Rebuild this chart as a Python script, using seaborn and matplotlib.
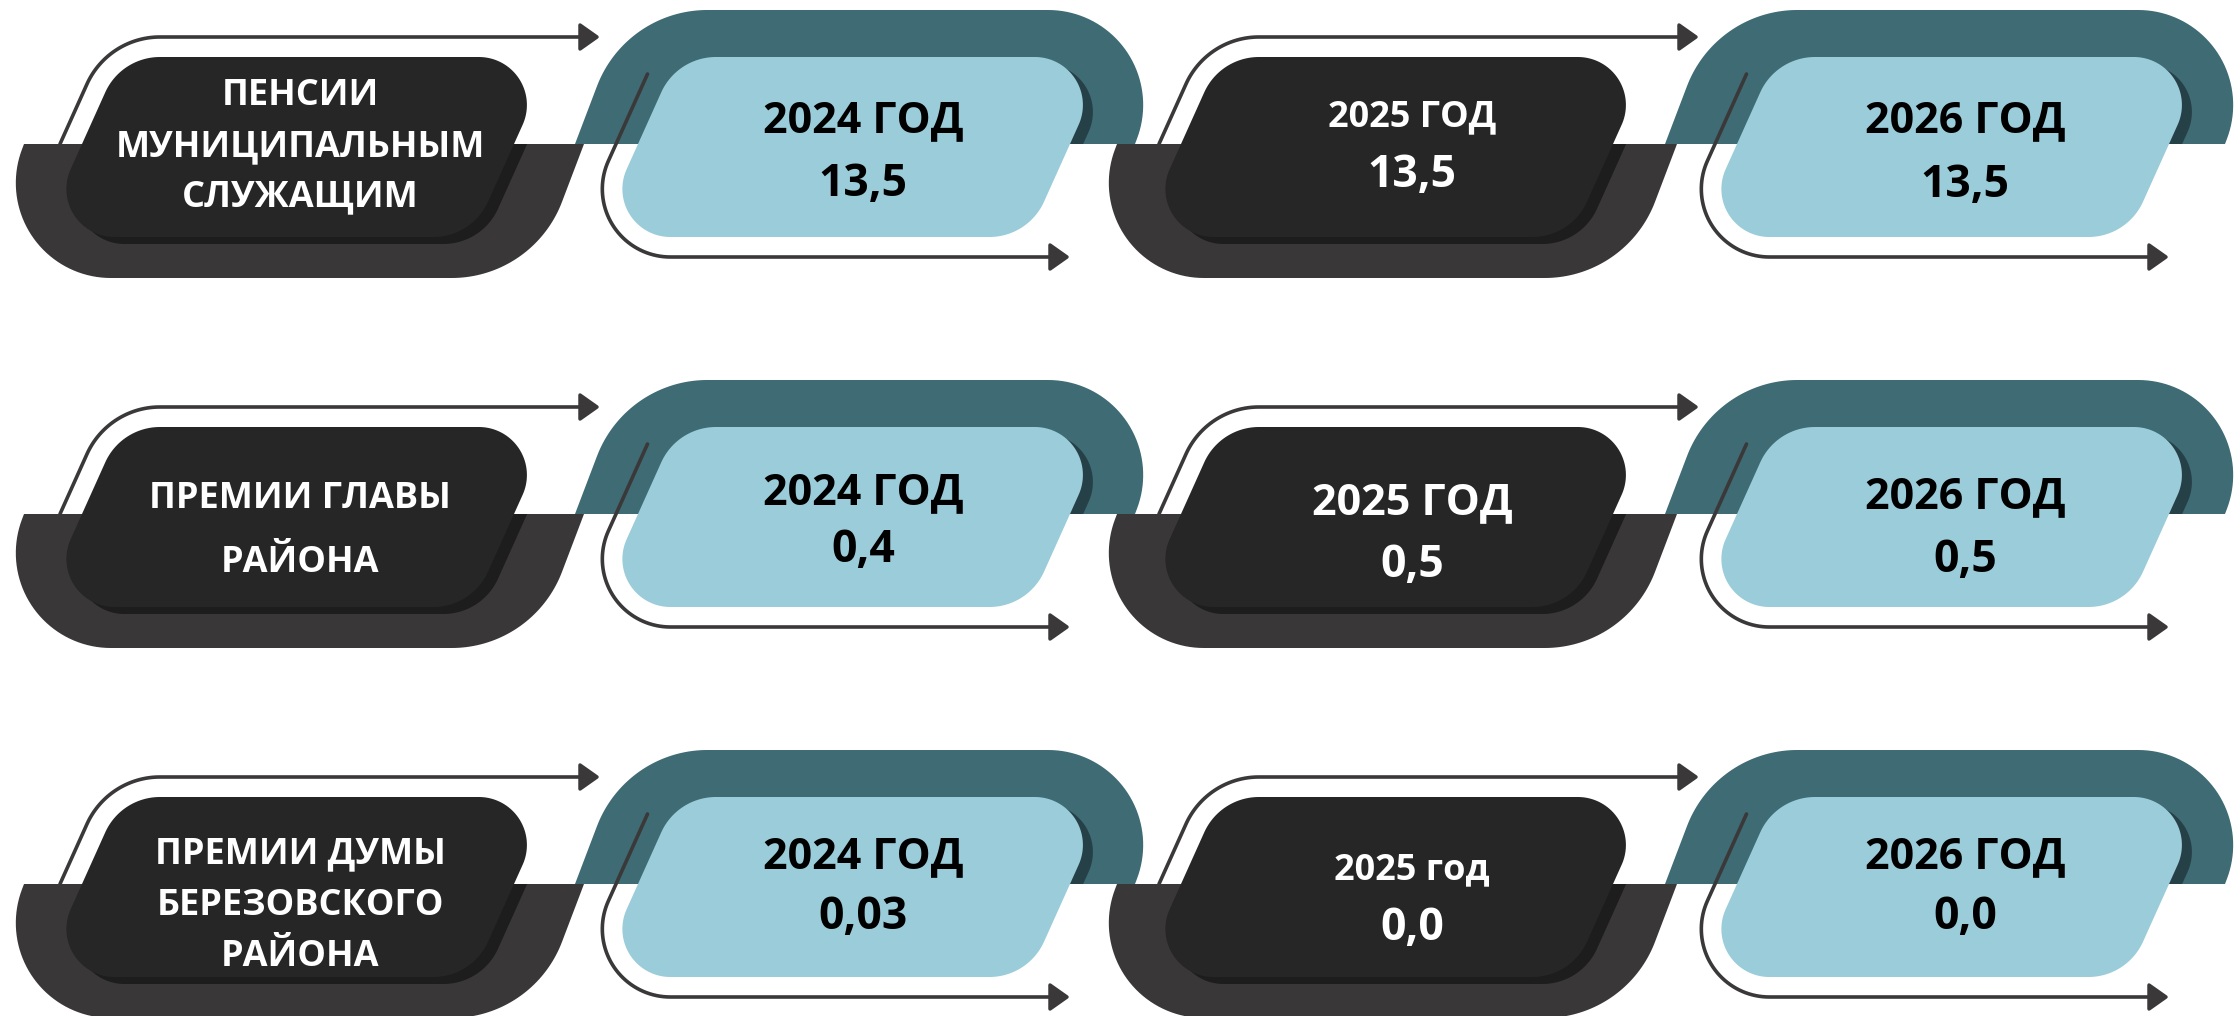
import numpy as np
import matplotlib
matplotlib.use("Agg")
import matplotlib.pyplot as plt
from matplotlib.patches import Polygon, Rectangle
from matplotlib.lines import Line2D
import seaborn as sns

# ---------------- data ----------------
categories = ["ПЕНСИИ\nМУНИЦИПАЛЬНЫМ\nСЛУЖАЩИМ",
              "ПРЕМИИ ГЛАВЫ\nРАЙОНА",
              "ПРЕМИИ ДУМЫ\nБЕРЕЗОВСКОГО\nРАЙОНА"]
periods_pensions = ["2024 ГОД", "2025 ГОД", "2026 ГОД"]
periods_head = ["2024 ГОД", "2025 ГОД", "2026 ГОД"]
periods_duma = ["2024 ГОД", "2025 год", "2026 ГОД"]
values_2024 = [13.5, 0.4, 0.03]
values_2025 = [13.5, 0.5, 0.0]
values_2026 = [13.5, 0.5, 0.0]

period_rows = [periods_pensions, periods_head, periods_duma]
value_cols = [values_2024, values_2025, values_2026]

# ---------------- style / layout ----------------
sns.set_theme(style="white")
plt.rcParams['font.family'] = ['Open Sans', 'DejaVu Sans']

W, H = 2236, 1016
DPI = 100
row_off = [0, 370, 740]
inner_cx = [298, 854, 1397, 1953]
outer_cx = [304, 855, 1397, 1945]
text_x = [300, 863, 1412, 1965]
SHEAR_IN = 0.45
SHEAR_OUT = 0.38
YREF = 144

C_DARK_OUT = "#3A3738"
C_DARK_IN = "#262626"
C_DARK_SH = "#1D1D1D"
C_TEAL_OUT = "#3F6B74"
C_LIGHT_IN = "#9ACCD9"
C_TEAL_SH = "#264048"
C_LINE = "#3A3838"

label_cy = [143, 157, 162]
label_gap = [50.5, 64, 51.5]
year_cy = [[117, 113, 117], [119, 129, 123], [113, 126, 113]]
value_cy = [[180, 171, 181], [176, 191, 186], [173, 184, 173]]
year_fs = [[31, 26, 31], [31, 31, 31], [31, 26, 31]]
VALUE_FS = 32
LABEL_FS = 26


def fmt(v):
    s = f"{v:.2f}".rstrip("0")
    if s.endswith("."):
        s += "0"
    return s.replace(".", ",")


def para_vertices(cx, hw, yt, yb, s, yref):
    xl = lambda y: cx - hw + s * (yref - y)
    xr = lambda y: cx + hw + s * (yref - y)
    return [np.array([xl(yt), yt]), np.array([xr(yt), yt]),
            np.array([xr(yb), yb]), np.array([xl(yb), yb])], xl


def fillet(V, P, N, r, n=40):
    u1 = (P - V) / np.linalg.norm(P - V)
    u2 = (N - V) / np.linalg.norm(N - V)
    th = np.arccos(np.clip(np.dot(u1, u2), -1, 1))
    t = r / np.tan(th / 2)
    T1 = V + u1 * t
    T2 = V + u2 * t
    bis = (u1 + u2) / np.linalg.norm(u1 + u2)
    C = V + bis * r / np.sin(th / 2)
    a1 = np.arctan2(*(T1 - C)[::-1])
    a2 = np.arctan2(*(T2 - C)[::-1])
    da = (a2 - a1 + np.pi) % (2 * np.pi) - np.pi
    a = a1 + da * np.linspace(0, 1, n)
    return np.column_stack([C[0] + r * np.cos(a), C[1] + r * np.sin(a)])


def rounded_para(cx, hw, yt, yb, r_obt, r_acu, s, yref):
    V, _ = para_vertices(cx, hw, yt, yb, s, yref)
    radii = [r_obt, r_acu, r_obt, r_acu]   # TL, TR, BR, BL
    pts = [fillet(V[i], V[i - 1], V[(i + 1) % 4], radii[i]) for i in range(4)]
    return np.vstack(pts)


fig = plt.figure(figsize=(W / DPI, H / DPI), dpi=DPI)
ax = fig.add_axes([0, 0, 1, 1])
ax.set_xlim(0, W)
ax.set_ylim(H, 0)
ax.axis("off")

for ri, off in enumerate(row_off):
    yref = YREF + off
    for ci in range(4):
        dark = (ci % 2 == 0)
        oc = outer_cx[ci]
        ic = inner_cx[ci]
        # outer half shape
        opts = rounded_para(oc, 280, 10 + off, 278 + off, 118, 95, SHEAR_OUT, yref)
        if dark:
            clip = Rectangle((0, yref), W, 400, transform=ax.transData)
        else:
            clip = Rectangle((0, off - 50), W, YREF + 50, transform=ax.transData)
        outer = Polygon(opts, closed=True, facecolor=C_DARK_OUT if dark else C_TEAL_OUT,
                        edgecolor="none", zorder=1)
        ax.add_patch(outer)
        outer.set_clip_path(clip)

        # shadow of inner box
        ipts = rounded_para(ic, 216, 57 + off, 237 + off, 60, 48, SHEAR_IN, yref)
        sh = Polygon(ipts + np.array([10, 7]), closed=True,
                     facecolor=C_DARK_SH if dark else C_TEAL_SH, edgecolor="none", zorder=2)
        ax.add_patch(sh)
        sh.set_clip_path(clip)

        # arrow line around inner box
        V, xl = para_vertices(ic, 238, 37 + off, 257 + off, SHEAR_IN, yref)
        if dark:
            start = np.array([[xl(yref), yref]])
            arc = fillet(V[0], V[3], V[1], 80)
            y_line = 37 + off
            x_end = ic + 282
        else:
            start = np.array([[xl(74 + off), 74 + off]])
            arc = fillet(V[3], V[0], V[2], 68)
            y_line = 257 + off
            x_end = ic + 196
        path = np.vstack([start, arc, [[x_end, y_line]]])
        ax.add_line(Line2D(path[:, 0], path[:, 1], color=C_LINE, lw=2.6,
                           solid_capstyle="round", solid_joinstyle="round", zorder=3))
        head = Polygon([[x_end, y_line - 12], [x_end + 17, y_line], [x_end, y_line + 12]],
                       closed=True, facecolor=C_LINE, edgecolor=C_LINE, lw=2.5,
                       joinstyle="round", zorder=3)
        ax.add_patch(head)

        # inner box
        box = Polygon(ipts, closed=True, facecolor=C_DARK_IN if dark else C_LIGHT_IN,
                      edgecolor="none", zorder=4)
        ax.add_patch(box)

        tcol = "white" if dark else "black"
        if ci == 0:
            lines = categories[ri].split("\n")
            n = len(lines)
            cap = 0.714 * LABEL_FS * DPI / 72
            for li, txt in enumerate(lines):
                cy = label_cy[ri] + (li - (n - 1) / 2) * label_gap[ri] + off
                ax.text(text_x[ci], cy + cap / 2, txt, ha="center", va="baseline",
                        color=tcol, fontsize=LABEL_FS, fontweight="bold", zorder=5)
        else:
            k = ci - 1
            fs = year_fs[ri][k]
            cap = 0.714 * fs * DPI / 72
            ax.text(text_x[ci], year_cy[ri][k] + off + cap / 2, period_rows[ri][k],
                    ha="center", va="baseline", color=tcol, fontsize=fs,
                    fontweight="bold", zorder=5)
            cap = 0.714 * VALUE_FS * DPI / 72
            ax.text(text_x[ci], value_cy[ri][k] + off + cap / 2, fmt(value_cols[k][ri]),
                    ha="center", va="baseline", color=tcol, fontsize=VALUE_FS,
                    fontweight="bold", zorder=5)

fig.savefig("out.png", dpi=DPI, facecolor="white")
